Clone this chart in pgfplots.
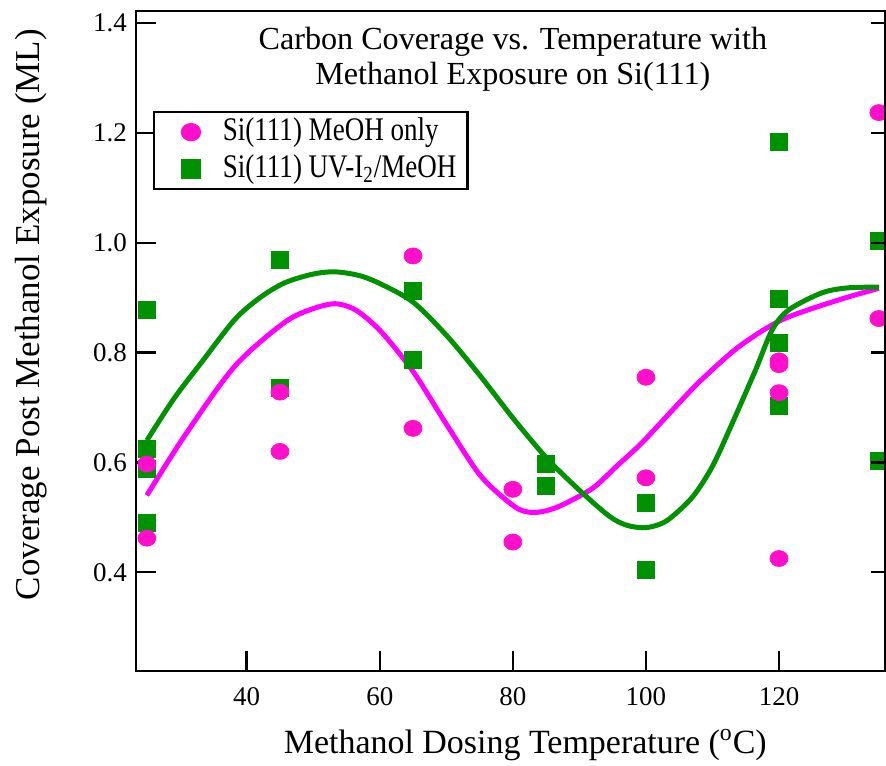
\documentclass[border=0pt]{standalone}
\usepackage{fontspec}
\setmainfont{Liberation Serif}
\newfontfamily\legfont[FakeStretch=0.82]{Liberation Serif}
\usepackage{pgfplots}
\pgfplotsset{compat=1.18}
\definecolor{mgline}{HTML}{FF00FF}
\definecolor{mgmark}{HTML}{FF0ECB}
\definecolor{grn}{HTML}{009200}

\begin{document}
\begin{tikzpicture}
\begin{axis}[
  scale only axis,width=375pt,height=330.5pt,
  xmin=23.34,xmax=135.9,ymin=0.22,ymax=1.422,
  axis line style={line width=1.2pt},
  tick style={line width=1.2pt,black},
  major tick length=10pt,tick align=inside,
  xtick={40,60,80,100,120},ytick={0.4,0.6,...,1.41},
  xtick pos=left,ytick pos=left,
  xticklabel={\textrm{\pgfmathprintnumber[assume math mode=true]{\tick}}},
  yticklabel={\textrm{\pgfmathprintnumber[assume math mode=true,fixed,fixed zerofill,precision=1]{\tick}}},
  ticklabel style={font=\rmfamily\fontsize{13.5}{15}\selectfont},
  xticklabel style={yshift=-4.5pt},
  yticklabel style={xshift=-1pt},
  xlabel={Methanol Dosing Temperature (\textsuperscript{o}C)},
  ylabel={Coverage Post Methanol Exposure (ML)},
  xlabel style={font=\fontsize{17}{19}\selectfont,at={(axis description cs:0.52,-0.112)},anchor=center},
  ylabel style={font=\fontsize{17.5}{19}\selectfont,at={(axis description cs:-0.14,0.54)},anchor=center},
  reverse legend,
  legend image code/.code={
    \path[draw=none,fill=none] (-3pt,-4pt) rectangle (26pt,4pt);
    \draw[mark repeat=2,mark phase=2,#1] plot coordinates {(0pt,0pt) (10pt,0pt) (20pt,0pt)};},
  legend style={at={(axis description cs:0.0227,0.8485)},anchor=north west,
    draw=black,line width=1.2pt,font=\legfont\fontsize{16.5}{18}\selectfont,
    inner xsep=5.5pt,inner ysep=2.5pt,row sep=3.5pt,
    nodes={inner sep=0pt,text height=11.5pt,text depth=3.5pt}},
  legend cell align=left,
]
\coordinate (bl) at (rel axis cs:0,0);
\coordinate (tr) at (rel axis cs:1,1);
\addplot[mgline,line width=2.5pt,smooth,forget plot] coordinates {
(25,0.540) (30.6,0.647) (38.2,0.775) (45.7,0.855) (50,0.880) (53.3,0.889)
(56,0.880) (58.3,0.860) (60.8,0.830) (65.1,0.764) (70.2,0.666) (75.2,0.575)
(80.2,0.520) (82.7,0.509) (85,0.512) (87.5,0.523) (92,0.553) (95.5,0.592)
(99.5,0.637) (105.5,0.715) (108.4,0.751) (114,0.811) (120.5,0.860)
(129,0.896) (135,0.917)};
\addplot[grn,line width=2.5pt,smooth,forget plot] coordinates {
(25,0.640) (29,0.715) (33.2,0.782) (38.2,0.860) (42,0.900) (45.7,0.927)
(50,0.943) (53.3,0.947) (57,0.940) (60.3,0.924) (65.1,0.891) (70.2,0.829)
(75.2,0.756) (80.2,0.678) (85.3,0.605) (90.4,0.545) (94.5,0.502) (97,0.486)
(99.5,0.481) (101.5,0.485) (103.5,0.497) (107,0.537) (110,0.593) (113,0.672)
(116.5,0.769) (119,0.842) (121.5,0.878) (126.5,0.909) (130.5,0.918) (135,0.919)};
\addplot[only marks,mark=square*,mark size=4.25pt,grn,mark options={draw=none,fill=grn}] coordinates {
(25,0.878) (25,0.625) (25,0.588) (25,0.490)
(45,0.968) (45,0.735)
(65,0.912) (65,0.787)
(85,0.598) (85,0.558)
(100,0.527) (100,0.405)
(120,1.183) (120,0.898) (120,0.818) (120,0.703)
(135,1.003) (135,0.603)};
\addlegendentry{Si(111) UV-I\textsubscript{2}/MeOH}
\addplot[only marks,mark=*,mark size=4pt,mgmark,mark options={draw=none,fill=mgmark,xscale=1.12}] coordinates {
(25,0.597) (25,0.462)
(45,0.728) (45,0.620)
(65,0.976) (65,0.662)
(80,0.551) (80,0.455)
(100,0.755) (100,0.572)
(120,0.785) (120,0.778) (120,0.727) (120,0.425)
(135,1.237) (135,0.862)};
\addlegendentry{Si(111) MeOH only}
\node[align=center,font=\fontsize{16.1}{17.5}\selectfont] at (axis cs:80,1.334)
  {Carbon Coverage vs. Temperature with\\Methanol Exposure on Si(111)};
\end{axis}
\begin{axis}[overlay,
  scale only axis,width=375pt,height=330.5pt,
  xmin=23.34,xmax=135.9,ymin=0.22,ymax=1.422,
  hide x axis,axis y line*=right,
  axis line style={line width=1.2pt},
  tick style={line width=1.2pt,black},
  major tick length=7pt,tick align=inside,
  ytick={0.4,0.6,...,1.41},yticklabels={},
]
\end{axis}
\pgfresetboundingbox
\path ([shift={(-68pt,-47.5pt)}]bl) rectangle ([shift={(0.6pt,5.5pt)}]tr);
\end{tikzpicture}
\end{document}
